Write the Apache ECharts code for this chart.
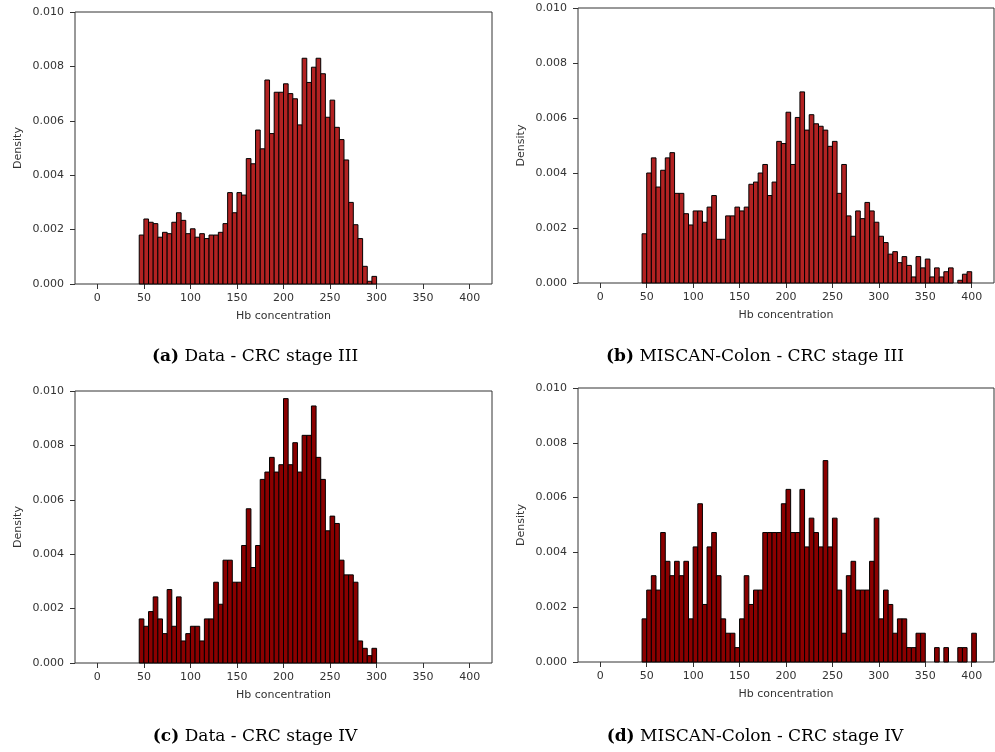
<!DOCTYPE html>
<html>
<head>
<meta charset="utf-8">
<script src="https://cdn.jsdelivr.net/npm/echarts@6/dist/echarts.min.js"></script>
<style>
html,body{margin:0;padding:0;background:#fff;}
#chart{width:995px;height:752px;}
</style>
</head>
<body>
<div id="chart"></div>
<script>
// Histogram bin edges (Hb concentration)
const binEdges = [45,50,55,60,65,70,75,80,85,90,95,100,105,110,115,120,125,130,135,140,145,150,155,160,165,170,175,180,185,190,195,200,205,210,215,220,225,230,235,240,245,250,255,260,265,270,275,280,285,290,295,300,305,310,315,320,325,330,335,340,345,350,355,360,365,370,375,380,385,390,395,400,405];
const xTickValues = [0,50,100,150,200,250,300,350,400];

// Densities in units of 0.001
const densityA = [1.80,2.39,2.27,2.22,1.72,1.90,1.85,2.27,2.62,2.34,
  1.85,2.03,1.72,1.85,1.67,1.80,1.80,1.90,2.22,3.36,
  2.62,3.36,3.27,4.61,4.42,5.66,4.97,7.50,5.53,7.05,
  7.05,7.36,7.00,6.81,5.85,8.30,7.41,7.97,8.30,7.73,
  6.13,6.76,5.76,5.31,4.56,3.00,2.18,1.67,0.65,0.10,0.28];
const densityB = [1.79,4.00,4.55,3.49,4.10,4.55,4.74,3.26,3.26,2.52,
  2.11,2.62,2.62,2.21,2.76,3.18,1.59,1.59,2.44,2.44,
  2.76,2.62,2.76,3.59,3.67,4.00,4.31,3.18,3.67,5.15,
  5.07,6.21,4.31,6.02,6.95,5.56,6.12,5.79,5.70,5.56,
  4.97,5.15,3.26,4.31,2.44,1.70,2.62,2.34,2.93,2.62,
  2.21,1.70,1.47,1.05,1.14,0.74,0.96,0.64,0.22,0.96,
  0.55,0.87,0.22,0.55,0.22,0.41,0.55,0,0.10,0.32,0.41];
const densityC = [1.62,1.35,1.89,2.43,1.62,1.08,2.70,1.35,2.43,0.81,
  1.08,1.35,1.35,0.81,1.62,1.62,2.97,2.16,3.78,3.78,
  2.97,2.97,4.32,5.67,3.51,4.32,6.75,7.02,7.56,7.02,
  7.29,9.72,7.29,8.10,7.02,8.37,8.37,9.45,7.56,6.75,
  4.86,5.40,5.13,3.78,3.24,3.24,2.97,0.81,0.54,0.27,0.54];
const densityD = [1.575,2.625,3.15,2.625,4.725,3.675,3.15,3.675,3.15,3.675,
  1.575,4.2,5.775,2.1,4.2,4.725,3.15,1.575,1.05,1.05,
  0.525,1.575,3.15,2.1,2.625,2.625,4.725,4.725,4.725,4.725,
  5.775,6.3,4.725,4.725,6.3,4.2,5.25,4.725,4.2,7.35,
  4.2,5.25,2.625,1.05,3.15,3.675,2.625,2.625,2.625,3.675,
  5.25,1.575,2.625,2.1,1.05,1.575,1.575,0.525,0.525,1.05,
  1.05,0,0,0.525,0,0.525,0,0,0.525,0.525,0,1.05];

const captions = [
  ['(a)', 'Data - CRC stage III'],
  ['(b)', 'MISCAN-Colon - CRC stage III'],
  ['(c)', 'Data - CRC stage IV'],
  ['(d)', 'MISCAN-Colon - CRC stage IV']
];

const panels = [
  {vals: densityA, color: '#b22222', grid: {left: 75, top: 12, width: 417, height: 272}, cap: [255, 357]},
  {vals: densityB, color: '#b22222', grid: {left: 578, top: 8, width: 416, height: 275}, cap: [755, 357]},
  {vals: densityC, color: '#8b0000', grid: {left: 75, top: 391, width: 417, height: 272}, cap: [255, 737]},
  {vals: densityD, color: '#8b0000', grid: {left: 578, top: 388, width: 416, height: 274}, cap: [755, 737]}
];

const FONT = 'DejaVu Sans';
const grids = [], xAxes = [], yAxes = [], series = [], graphics = [];

panels.forEach((p, i) => {
  grids.push(Object.assign({show: true, borderColor: '#333', borderWidth: 1, backgroundColor: 'transparent'}, p.grid));
  xAxes.push({
    type: 'value', gridIndex: i, min: -24, max: 424,
    axisLine: {show: false, onZero: false},
    splitLine: {show: false},
    axisTick: {show: true, length: 5, lineStyle: {color: '#333'}, customValues: xTickValues},
    axisLabel: {color: '#333', fontFamily: FONT, fontSize: 11, margin: 9, customValues: xTickValues},
    name: 'Hb concentration', nameLocation: 'middle', nameGap: 27,
    nameTextStyle: {color: '#333', fontFamily: FONT, fontSize: 11}
  });
  yAxes.push({
    type: 'value', gridIndex: i, min: 0, max: 0.010, interval: 0.002,
    axisLine: {show: false, onZero: false},
    splitLine: {show: false},
    axisTick: {show: true, length: 5, lineStyle: {color: '#333'}},
    axisLabel: {color: '#333', fontFamily: FONT, fontSize: 11, margin: 11, formatter: v => v.toFixed(3)},
    name: 'Density', nameLocation: 'middle', nameGap: 51, nameRotate: 90,
    nameTextStyle: {color: '#333', fontFamily: FONT, fontSize: 11}
  });
  const data = p.vals.map((v, k) => [binEdges[k], binEdges[k + 1], v / 1000]);
  const color = p.color;
  series.push({
    type: 'custom', xAxisIndex: i, yAxisIndex: i, data: data,
    renderItem: function (params, api) {
      const y = api.value(2);
      if (!(y > 0)) return null;
      const a = api.coord([api.value(0), y]);
      const b = api.coord([api.value(1), 0]);
      return {
        type: 'rect',
        shape: {x: a[0], y: a[1], width: b[0] - a[0], height: b[1] - a[1]},
        style: {fill: color, stroke: '#000', lineWidth: 1}
      };
    }
  });
  graphics.push({
    type: 'text', x: p.cap[0], y: p.cap[1],
    style: {
      text: '{b|' + captions[i][0] + '} ' + captions[i][1],
      rich: {b: {fontWeight: 'bold', fontFamily: 'DejaVu Serif', fontSize: 17, fill: '#000'}},
      fontFamily: 'DejaVu Serif', fontSize: 17, fill: '#000',
      align: 'center', verticalAlign: 'middle'
    }
  });
});

const chart = echarts.init(document.getElementById('chart'), null, {renderer: 'canvas'});
chart.setOption({
  animation: false,
  backgroundColor: '#fff',
  grid: grids, xAxis: xAxes, yAxis: yAxes, series: series,
  graphic: graphics
});
</script>
</body>
</html>
